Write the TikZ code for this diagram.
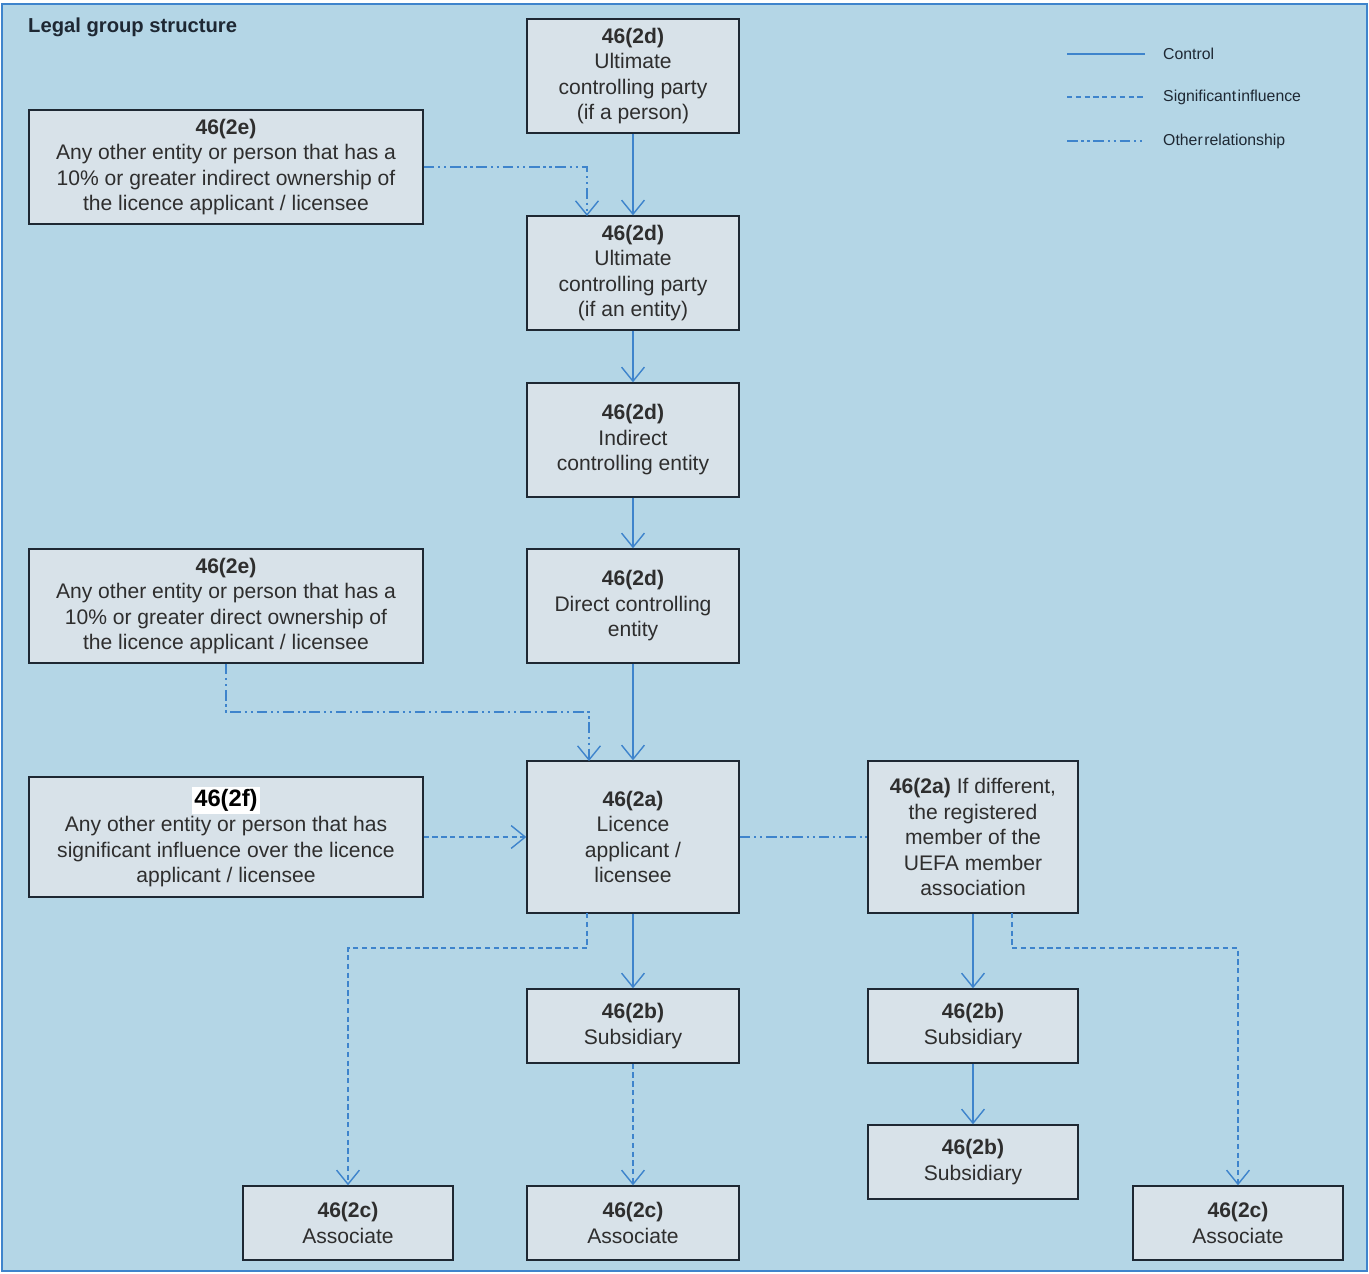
\documentclass[tikz,border=0pt]{standalone}
\usepackage{fontspec}
\setmainfont{Liberation Sans}
\usetikzlibrary{arrows.meta}
\definecolor{bgblue}{HTML}{B4D6E6}
\definecolor{boxfill}{HTML}{D8E2E9}
\definecolor{boxline}{HTML}{1E2833}
\definecolor{linkblue}{HTML}{3E84CC}
\definecolor{txtgray}{HTML}{2E2E2E}
\setlength{\fboxsep}{1.5pt}

\begin{document}
\begin{tikzpicture}[x=0.02cm,y=-0.02cm,
    box/.style={draw=boxline,fill=boxfill,line width=0.8pt,align=center,inner sep=2pt,
      text=txtgray,font=\fontsize{12}{14.5}\selectfont},
    ctrl/.style={draw=linkblue,line width=1.1pt},
    sig/.style={draw=linkblue,line width=0.8pt,dash pattern=on 3pt off 2pt},
    other/.style={draw=linkblue,line width=0.8pt,
      dash pattern=on 6pt off 2.2pt on 1.2pt off 2.2pt on 1.2pt off 2.2pt},
    tip/.style={-{Straight Barb[length=8pt,width=13pt,line width=0.8pt]}}]
  \useasboundingbox (0,0) rectangle (1369,1274);
  \draw[draw=linkblue,line width=1.2pt,fill=bgblue] (2,4) rectangle (1367,1271);
  \node[anchor=west,font=\fontsize{11.5}{14}\selectfont\bfseries,text=boxline] (title) at (22,27) {Legal group structure};

  % control chain
  \node[box,minimum width=4.24cm,minimum height=2.28cm] (upperson) at (633,76)
    {\textbf{46(2d)}\\Ultimate\\controlling party\\(if a person)};
  \node[box,minimum width=4.24cm,minimum height=2.28cm] (upentity) at (633,273)
    {\textbf{46(2d)}\\Ultimate\\controlling party\\(if an entity)};
  \node[box,minimum width=4.24cm,minimum height=2.28cm] (indirect) at (633,440)
    {\textbf{46(2d)}\\Indirect\\controlling entity};
  \node[box,minimum width=4.24cm,minimum height=2.28cm] (direct) at (633,606)
    {\textbf{46(2d)}\\Direct controlling\\entity};
  \node[box,minimum width=4.24cm,minimum height=3.04cm] (licensee) at (633,837)
    {\textbf{46(2a)}\\Licence\\applicant /\\licensee};

  % other owners
  \node[box,minimum width=7.88cm,minimum height=2.28cm] (indown) at (226,167)
    {\textbf{46(2e)}\\Any other entity or person that has a\\10\% or greater indirect ownership of\\the licence applicant / licensee};
  \node[box,minimum width=7.88cm,minimum height=2.28cm] (dirown) at (226,606)
    {\textbf{46(2e)}\\Any other entity or person that has a\\10\% or greater direct ownership of\\the licence applicant / licensee};
  \node[box,minimum width=7.88cm,minimum height=2.4cm] (influence) at (226,837)
    {\colorbox{white}{\fontsize{13.5}{15}\selectfont\bfseries\color{black}46(2f)}\\Any other entity or person that has\\significant influence over the licence\\applicant / licensee};
  \node[box,minimum width=4.2cm,minimum height=3.04cm] (member) at (973,837)
    {\textbf{46(2a)} If different,\\the registered\\member of the\\UEFA member\\association};

  % subsidiaries and associates
  \node[box,minimum width=4.24cm,minimum height=1.48cm] (sub1) at (633,1026) {\textbf{46(2b)}\\Subsidiary};
  \node[box,minimum width=4.2cm,minimum height=1.48cm] (sub2) at (973,1026) {\textbf{46(2b)}\\Subsidiary};
  \node[box,minimum width=4.2cm,minimum height=1.48cm] (sub3) at (973,1162) {\textbf{46(2b)}\\Subsidiary};
  \node[box,minimum width=4.2cm,minimum height=1.48cm] (assoc1) at (348,1223) {\textbf{46(2c)}\\Associate};
  \node[box,minimum width=4.24cm,minimum height=1.48cm] (assoc2) at (633,1223) {\textbf{46(2c)}\\Associate};
  \node[box,minimum width=4.2cm,minimum height=1.48cm] (assoc3) at (1238,1223) {\textbf{46(2c)}\\Associate};

  \coordinate (upin) at (587,216);
  \coordinate (dirturn) at (226,712);
  \coordinate (lain) at (589,761);
  \coordinate (laout) at (587,913);
  \coordinate (a1turn) at (348,948);
  \coordinate (rmout) at (1012,913);
  \coordinate (a3turn) at (1238,948);

  \begin{scope}[tip]
    \draw[ctrl] (upperson) to (upentity);
    \draw[ctrl] (upentity) to (indirect);
    \draw[ctrl] (indirect) to (direct);
    \draw[ctrl] (direct) to (licensee);
    \draw[ctrl] (licensee) to (sub1);
    \draw[ctrl] (member.south -| sub2.north) to (sub2);
    \draw[ctrl] (sub2) to (sub3);
    \draw[other] (indown.east) -| (upin);
    \draw[other] (dirown.south) -- (dirturn) -| (lain);
    \draw[sig] (influence) to (licensee);
    \draw[sig] (laout) |- (a1turn) -- (assoc1.north);
    \draw[sig] (sub1) to (assoc2);
    \draw[sig] (rmout) |- (a3turn) -- (assoc3.north);
  \end{scope}
  \draw[other] (licensee) to (member);

  % legend
  \coordinate (lg1a) at (1067,54);  \coordinate (lg1b) at (1145,54);
  \coordinate (lg2a) at (1067,97);  \coordinate (lg2b) at (1145,97);
  \coordinate (lg3a) at (1067,141); \coordinate (lg3b) at (1145,141);
  \draw[ctrl,line width=0.8pt] (lg1a) -- (lg1b);
  \draw[sig] (lg2a) -- (lg2b);
  \draw[other] (lg3a) -- (lg3b);
  \begin{scope}[every node/.style={anchor=west,text=boxline,font=\fontsize{9}{11}\selectfont}]
    \node (lgctrl) at (1157,54) {Control};
    \node (lgsig) at (1157,97) {Significant\hspace{0.1em}influence};
    \node (lgother) at (1157,141) {Other\hspace{0.1em}relationship};
  \end{scope}
\end{tikzpicture}
\end{document}
